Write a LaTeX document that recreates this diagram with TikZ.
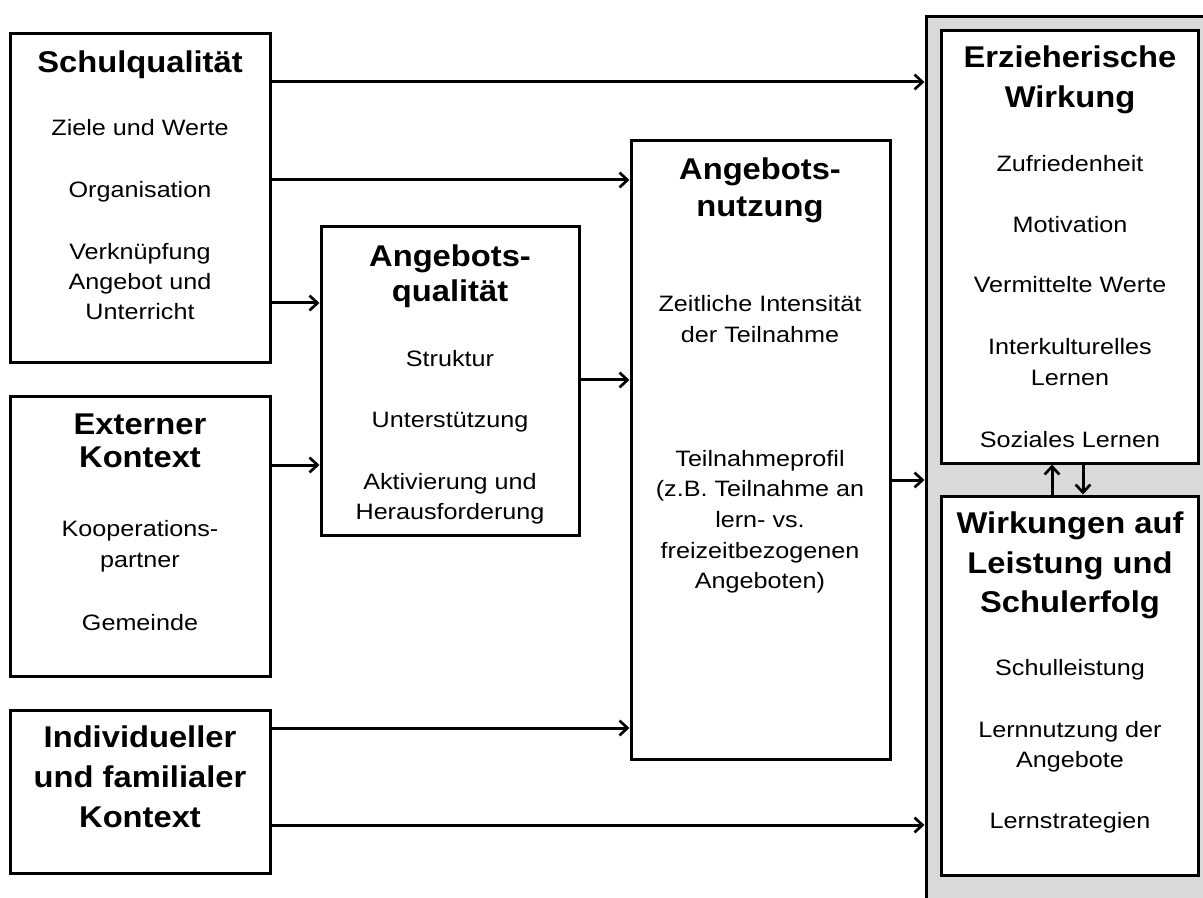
\documentclass[tikz,border=0pt]{standalone}
\usepackage{fontspec}
\setmainfont{Liberation Sans}
\newfontfamily\bodyff[FakeStretch=1.13]{Liberation Sans}
\newfontfamily\headff[FakeStretch=1.09]{Liberation Sans}
\usetikzlibrary{arrows.meta,fit}
\tikzset{
  box/.style={draw=black, line width=2.25pt, fill=white, inner sep=0pt},
  outerbox/.style={draw=black, line width=2.25pt, fill=black!15, inner sep=0pt},
  head/.style={anchor=base, inner sep=0pt, font=\headff\bfseries\fontsize{22.5pt}{27pt}\selectfont},
  txt/.style={anchor=base, inner sep=0pt, font=\bodyff\fontsize{16.7pt}{22.5pt}\selectfont},
  arr/.style={line width=2.25pt, -{Straight Barb[length=6pt,width=11pt,line width=2pt]}}
}
\begin{document}
\begin{tikzpicture}[x=0.75pt,y=-0.75pt]
\useasboundingbox (0,0) rectangle (1203,898);

% grey frame around the two outcome boxes (runs off the page)
\begin{scope}
  \clip (0,0) rectangle (1203,898);
  \node[outerbox, fit={(926,17) (1220,915)}] (outer) {};
\end{scope}

% boxes
\node[box, fit={(10,34) (270,363)}]   (sq) {};
\node[box, fit={(10,397) (270,676)}]  (ek) {};
\node[box, fit={(10,710) (270,873)}]  (ik) {};
\node[box, fit={(321,227) (579,535)}] (aq) {};
\node[box, fit={(631,141) (890,759)}] (an) {};
\node[box, fit={(941,31) (1198,463)}] (ew) {};
\node[box, fit={(941,496) (1198,875)}] (wl) {};

% Schulqualität
\node[head] (sq-h1) at (140,73) {Schulqualität};
\node[txt] (sq-t1) at (140,136) {Ziele und Werte};
\node[txt] (sq-t2) at (140,198) {Organisation};
\node[txt] (sq-t3) at (140,260) {Verknüpfung};
\node[txt] (sq-t4) at (140,290) {Angebot und};
\node[txt] (sq-t5) at (140,320) {Unterricht};

% Externer Kontext
\node[head] (ek-h1) at (140,435) {Externer};
\node[head] (ek-h2) at (140,467) {Kontext};
\node[txt] (ek-t1) at (140,536) {Kooperations-};
\node[txt] (ek-t2) at (140,567) {partner};
\node[txt] (ek-t3) at (140,630) {Gemeinde};

% Individueller und familialer Kontext
\node[head] (ik-h1) at (140,747) {Individueller};
\node[head] (ik-h2) at (140,787) {und familialer};
\node[head] (ik-h3) at (140,827) {Kontext};

% Angebotsqualität
\node[head] (aq-h1) at (450,267) {Angebots-};
\node[head] (aq-h2) at (450,302) {qualität};
\node[txt] (aq-t1) at (450,367) {Struktur};
\node[txt] (aq-t2) at (450,427) {Unterstützung};
\node[txt] (aq-t3) at (450,489) {Aktivierung und};
\node[txt] (aq-t4) at (450,519) {Herausforderung};

% Angebotsnutzung
\node[head] (an-h1) at (760,180) {Angebots-};
\node[head] (an-h2) at (760,217) {nutzung};
\node[txt] (an-t1) at (760,312) {Zeitliche Intensität};
\node[txt] (an-t2) at (760,343) {der Teilnahme};
\node[txt] (an-t3) at (760,466) {Teilnahmeprofil};
\node[txt] (an-t4) at (760,496) {(z.B. Teilnahme an};
\node[txt] (an-t5) at (760,527) {lern- vs.};
\node[txt] (an-t6) at (760,558) {freizeitbezogenen};
\node[txt] (an-t7) at (760,588) {Angeboten)};

% Erzieherische Wirkung
\node[head] (ew-h1) at (1070,68) {Erzieherische};
\node[head] (ew-h2) at (1070,108) {Wirkung};
\node[txt] (ew-t1) at (1070,172) {Zufriedenheit};
\node[txt] (ew-t2) at (1070,233) {Motivation};
\node[txt] (ew-t3) at (1070,293) {Vermittelte Werte};
\node[txt] (ew-t4) at (1070,355) {Interkulturelles};
\node[txt] (ew-t5) at (1070,386) {Lernen};
\node[txt] (ew-t6) at (1070,447) {Soziales Lernen};

% Wirkungen auf Leistung und Schulerfolg
\node[head] (wl-h1) at (1070,533) {Wirkungen auf};
\node[head] (wl-h2) at (1070,573) {Leistung und};
\node[head] (wl-h3) at (1070,612) {Schulerfolg};
\node[txt] (wl-t1) at (1070,675) {Schulleistung};
\node[txt] (wl-t2) at (1070,737) {Lernnutzung der};
\node[txt] (wl-t3) at (1070,767) {Angebote};
\node[txt] (wl-t4) at (1070,828) {Lernstrategien};

% connectors
\draw[arr] (sq.east |- 0,82)  -- (outer.west |- 0,82);
\draw[arr] (sq.east |- 0,180) -- (an.west |- 0,180);
\draw[arr] (sq.east |- 0,303) -- (aq.west |- 0,303);
\draw[arr] (ek.east |- 0,465) -- (aq.west |- 0,465);
\draw[arr] (aq.east |- 0,380) -- (an.west |- 0,380);
\draw[arr] (an.east |- 0,480) -- (outer.west |- 0,480);
\draw[arr] (ik.east |- 0,728) -- (an.west |- 0,728);
\draw[arr] (ik.east |- 0,825) -- (outer.west |- 0,825);
\draw[arr] (wl.north -| 1052,0) -- (ew.south -| 1052,0);
\draw[arr] (ew.south -| 1083,0) -- (wl.north -| 1083,0);
\end{tikzpicture}
\end{document}
